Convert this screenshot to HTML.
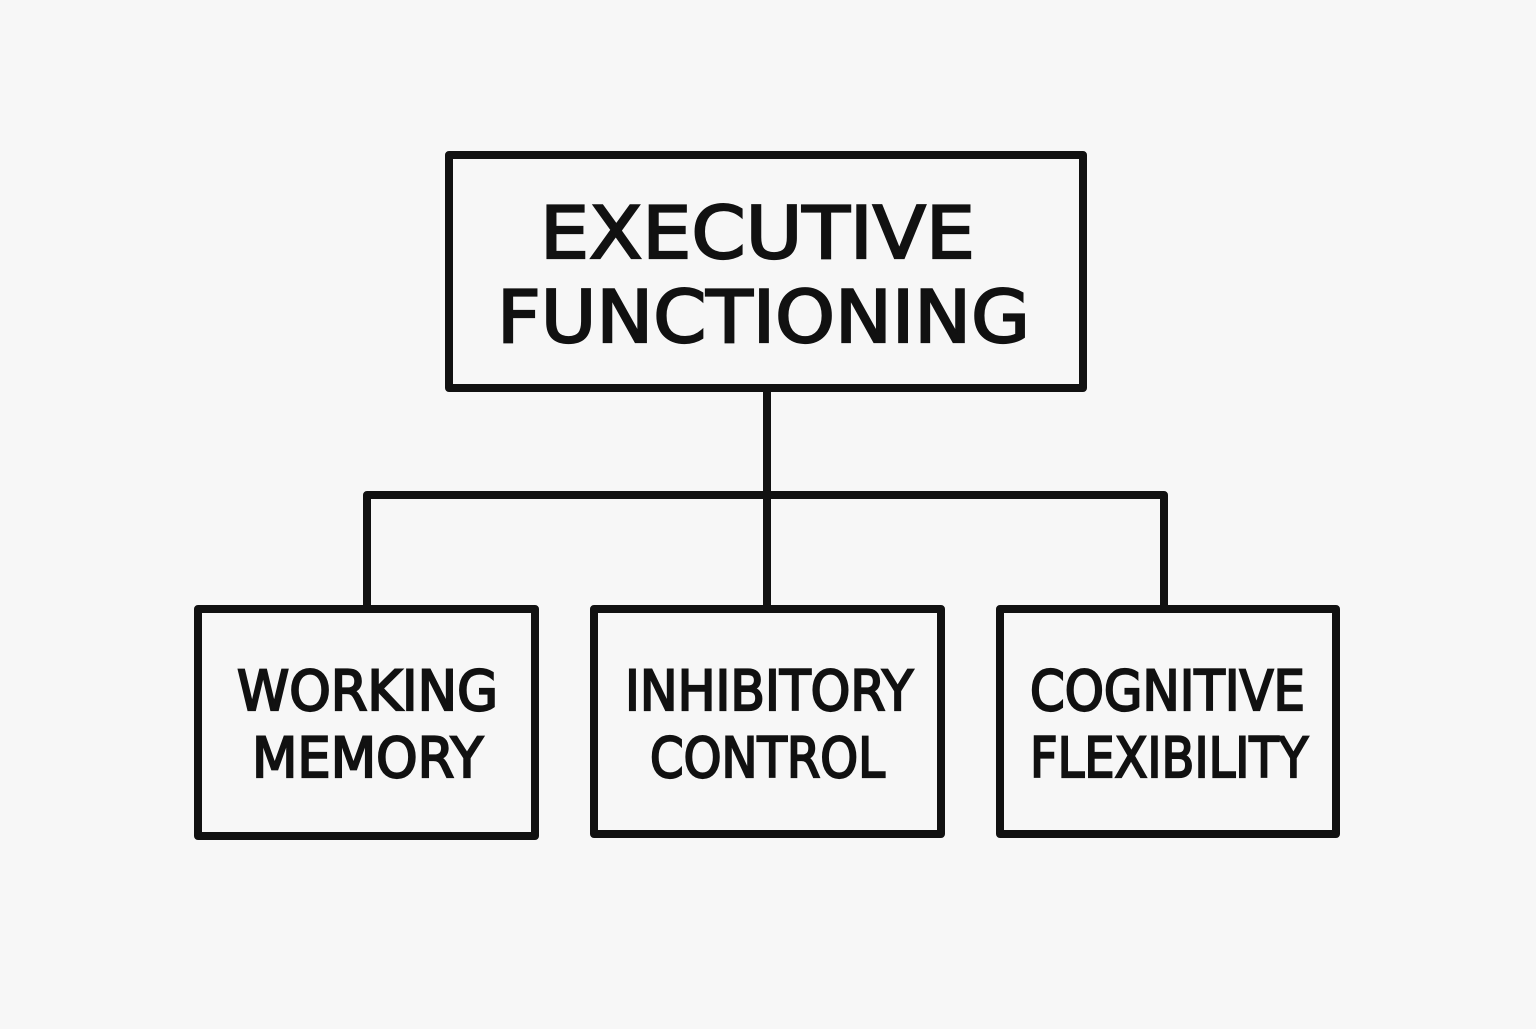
<!DOCTYPE html>
<html><head><style>
html,body{margin:0;padding:0;background:#f7f7f7;}
</style></head>
<body>
<svg width="1536" height="1024" xmlns="http://www.w3.org/2000/svg">
<rect width="1536" height="1024" fill="#f7f7f7"/>
<g fill="none" stroke="#111" stroke-width="8" stroke-linejoin="round">
<rect x="449" y="155" width="634" height="233"/>
<rect x="198" y="609" width="337" height="227"/>
<rect x="594" y="609" width="347" height="225"/>
<rect x="1000" y="609" width="336" height="225"/>
<line x1="767" y1="388" x2="767" y2="609"/>
<polyline points="367,609 367,495 1164,495 1164,609"/>
</g>
<g font-family="'DejaVu Sans','Liberation Sans',sans-serif" fill="#111" stroke="#111" stroke-width="2.2">
<text x="540" y="258" font-size="72" textLength="435" lengthAdjust="spacingAndGlyphs">EXECUTIVE</text>
<text x="497" y="342" font-size="72" textLength="533" lengthAdjust="spacingAndGlyphs">FUNCTIONING</text>
<text x="237" y="710" font-size="55" textLength="261" lengthAdjust="spacingAndGlyphs">WORKING</text>
<text x="252" y="777" font-size="55" textLength="231" lengthAdjust="spacingAndGlyphs">MEMORY</text>
<text x="625" y="710" font-size="55" textLength="288" lengthAdjust="spacingAndGlyphs">INHIBITORY</text>
<text x="650" y="777" font-size="55" textLength="235" lengthAdjust="spacingAndGlyphs">CONTROL</text>
<text x="1030" y="710" font-size="55" textLength="275" lengthAdjust="spacingAndGlyphs">COGNITIVE</text>
<text x="1030" y="777" font-size="55" textLength="278" lengthAdjust="spacingAndGlyphs">FLEXIBILITY</text>
</g>
</svg>
</body></html>
